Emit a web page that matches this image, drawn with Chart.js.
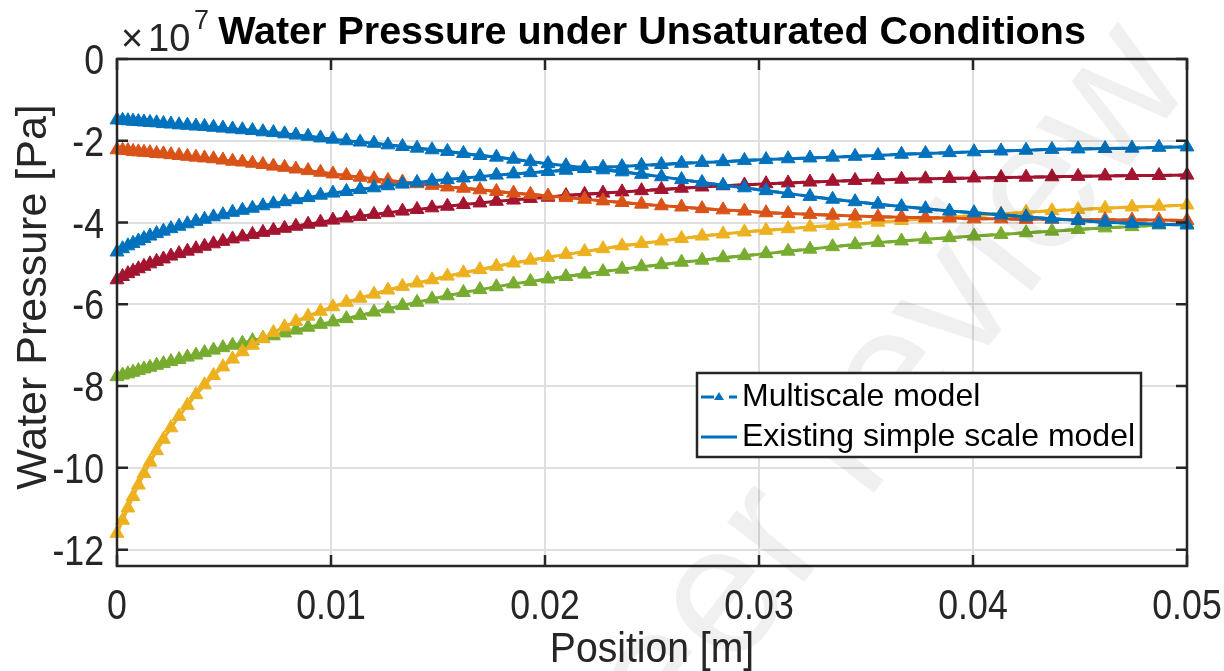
<!DOCTYPE html>
<html>
<head>
<meta charset="utf-8">
<title>Water Pressure under Unsaturated Conditions</title>
<script src="https://cdn.jsdelivr.net/npm/chart.js@4.4.0/dist/chart.umd.min.js"></script>
<style>
  html, body { margin: 0; padding: 0; background: #fff; }
  canvas { display: block; }
</style>
</head>
<body>
<canvas id="chart" width="1224" height="671"></canvas>
<script>
// Node positions along the sample [m] (the mesh is finer near x = 0)
const position = [
  0, 0.00026, 0.00051, 0.00075, 0.00100, 0.00126, 0.00154, 0.00185, 0.00217, 0.00252,
  0.00290, 0.00329, 0.00369, 0.00409, 0.00451, 0.00495, 0.00540, 0.00586, 0.00633, 0.00682,
  0.00731, 0.00783, 0.00836, 0.00893, 0.00951, 0.01009, 0.01072, 0.01136, 0.01201, 0.01266,
  0.01334, 0.01402, 0.01472, 0.01544, 0.01619, 0.01696, 0.01773, 0.01853, 0.01932, 0.02014,
  0.02098, 0.02185, 0.02271, 0.02360, 0.02451, 0.02544, 0.02638, 0.02734, 0.02832, 0.02932,
  0.03033, 0.03136, 0.03238, 0.03344, 0.03449, 0.03556, 0.03666, 0.03778, 0.03890, 0.04005,
  0.04131, 0.04248, 0.04369, 0.04491, 0.04617, 0.04743, 0.04869, 0.05
];

// Water pressure [x 10^7 Pa], one array per curve
const pressureBlueTop = [
  -1.49, -1.50, -1.51, -1.52, -1.53, -1.54, -1.55, -1.56, -1.58, -1.59,
  -1.61, -1.62, -1.64, -1.65, -1.67, -1.69, -1.71, -1.73, -1.75, -1.78,
  -1.80, -1.83, -1.86, -1.89, -1.93, -1.96, -2.00, -2.03, -2.06, -2.10,
  -2.14, -2.18, -2.22, -2.26, -2.31, -2.36, -2.40, -2.45, -2.51, -2.56,
  -2.61, -2.66, -2.71, -2.76, -2.82, -2.88, -2.95, -3.02, -3.09, -3.15,
  -3.22, -3.29, -3.36, -3.43, -3.49, -3.55, -3.61, -3.66, -3.72, -3.76,
  -3.81, -3.86, -3.91, -3.95, -3.99, -4.02, -4.04, -4.06
];
const pressureOrange = [
  -2.22, -2.23, -2.24, -2.26, -2.27, -2.28, -2.29, -2.31, -2.32, -2.34,
  -2.36, -2.38, -2.40, -2.42, -2.44, -2.47, -2.50, -2.52, -2.55, -2.58,
  -2.62, -2.65, -2.69, -2.73, -2.77, -2.81, -2.85, -2.89, -2.93, -2.97,
  -3.01, -3.05, -3.09, -3.13, -3.16, -3.20, -3.24, -3.28, -3.31, -3.35,
  -3.39, -3.43, -3.47, -3.51, -3.55, -3.59, -3.62, -3.66, -3.69, -3.72,
  -3.76, -3.78, -3.80, -3.82, -3.84, -3.86, -3.87, -3.88, -3.89, -3.91,
  -3.91, -3.92, -3.92, -3.93, -3.93, -3.94, -3.94, -3.95
];
const pressureBlueLow = [
  -4.72, -4.64, -4.57, -4.51, -4.45, -4.39, -4.33, -4.27, -4.21, -4.15,
  -4.09, -4.03, -3.97, -3.92, -3.86, -3.81, -3.75, -3.70, -3.65, -3.59,
  -3.54, -3.49, -3.44, -3.39, -3.33, -3.28, -3.24, -3.19, -3.15, -3.10,
  -3.06, -3.02, -2.98, -2.95, -2.91, -2.88, -2.84, -2.81, -2.78, -2.75,
  -2.72, -2.68, -2.65, -2.63, -2.60, -2.58, -2.55, -2.53, -2.51, -2.48,
  -2.46, -2.44, -2.42, -2.40, -2.38, -2.36, -2.33, -2.31, -2.29, -2.27,
  -2.25, -2.23, -2.21, -2.20, -2.19, -2.18, -2.16, -2.15
];
const pressureDarkRed = [
  -5.40, -5.32, -5.25, -5.19, -5.13, -5.07, -5.01, -4.95, -4.89, -4.82,
  -4.76, -4.70, -4.64, -4.58, -4.52, -4.46, -4.40, -4.35, -4.29, -4.24,
  -4.19, -4.14, -4.09, -4.04, -3.99, -3.94, -3.89, -3.85, -3.80, -3.76,
  -3.72, -3.68, -3.64, -3.60, -3.56, -3.52, -3.48, -3.45, -3.41, -3.38,
  -3.34, -3.31, -3.28, -3.25, -3.22, -3.19, -3.16, -3.13, -3.10, -3.08,
  -3.05, -3.03, -3.01, -2.99, -2.97, -2.96, -2.94, -2.93, -2.92, -2.91,
  -2.90, -2.89, -2.88, -2.87, -2.86, -2.85, -2.85, -2.84
];
const pressureGreen = [
  -7.77, -7.73, -7.70, -7.66, -7.62, -7.58, -7.54, -7.49, -7.45, -7.40,
  -7.35, -7.29, -7.24, -7.18, -7.12, -7.06, -7.00, -6.95, -6.89, -6.83,
  -6.77, -6.70, -6.63, -6.56, -6.49, -6.43, -6.35, -6.27, -6.19, -6.11,
  -6.03, -5.95, -5.87, -5.79, -5.71, -5.64, -5.57, -5.50, -5.44, -5.38,
  -5.32, -5.26, -5.20, -5.14, -5.08, -5.03, -4.97, -4.92, -4.86, -4.81,
  -4.76, -4.70, -4.65, -4.59, -4.54, -4.49, -4.45, -4.41, -4.37, -4.33,
  -4.29, -4.25, -4.21, -4.17, -4.13, -4.10, -4.06, -4.03
];
const pressureYellow = [
  -11.60, -11.28, -10.98, -10.70, -10.42, -10.14, -9.86, -9.58, -9.30, -9.02,
  -8.74, -8.47, -8.21, -7.97, -7.74, -7.53, -7.34, -7.16, -7.00, -6.84,
  -6.69, -6.55, -6.42, -6.29, -6.17, -6.06, -5.95, -5.85, -5.75, -5.65,
  -5.56, -5.48, -5.40, -5.31, -5.23, -5.15, -5.07, -4.99, -4.92, -4.85,
  -4.78, -4.71, -4.64, -4.57, -4.51, -4.45, -4.39, -4.33, -4.28, -4.23,
  -4.19, -4.15, -4.11, -4.07, -4.03, -3.99, -3.95, -3.91, -3.87, -3.83,
  -3.79, -3.75, -3.71, -3.68, -3.65, -3.62, -3.60, -3.57
];

const xTicks = [0, 0.01, 0.02, 0.03, 0.04, 0.05];
const xTickLabels = ['0', '0.01', '0.02', '0.03', '0.04', '0.05'];
const yTicks = [-12, -10, -8, -6, -4, -2, 0];
const yTickLabels = ['-12', '-10', '-8', '-6', '-4', '-2', '0'];
const legendLabels = ['Multiscale model', 'Existing simple scale model'];

const AXIS_COLOR = '#262626';
const FONT = '"Liberation Sans", Arial, Helvetica, sans-serif';

// first entry ends up on top (Chart.js draws dataset 0 last)
const curves = [
  { values: pressureBlueTop, color: '#0072BD' },
  { values: pressureBlueLow, color: '#0072BD' },
  { values: pressureOrange, color: '#D95319' },
  { values: pressureYellow, color: '#EDB120' },
  { values: pressureDarkRed, color: '#A2142F' },
  { values: pressureGreen, color: '#77AC30' }
];

const datasets = [];
curves.forEach(c => {
  const pts = position.map((x, j) => ({ x: x, y: c.values[j] }));
  datasets.push({
    label: legendLabels[0],
    data: pts,
    borderColor: c.color,
    backgroundColor: c.color,
    borderWidth: 3,
    borderDash: [10, 6],
    pointStyle: 'triangle',
    pointRadius: 8,
    pointBorderWidth: 1,
    pointBorderColor: c.color,
    pointBackgroundColor: c.color,
    clip: false
  });
  datasets.push({
    label: legendLabels[1],
    data: pts,
    borderColor: c.color,
    borderWidth: 3,
    pointRadius: 0,
    clip: false
  });
});

// text squeezed horizontally, like the narrow Helvetica of the original export
function narrowText(ctx, text, x, y, align, sx) {
  ctx.save();
  ctx.translate(x, y);
  ctx.scale(sx, 1);
  ctx.textAlign = align;
  ctx.fillText(text, 0, 0);
  ctx.restore();
}

// axes box with inward ticks, tick labels, titles and the legend (MATLAB look)
const decorations = {
  id: 'decorations',
  afterDatasetsDraw(chart) {
    const { ctx, chartArea: a, scales } = chart;
    ctx.save();
    ctx.strokeStyle = AXIS_COLOR;
    ctx.lineWidth = 2.5;
    ctx.strokeRect(a.left, a.top, a.right - a.left, a.bottom - a.top);
    ctx.beginPath();
    xTicks.forEach(v => {
      const px = scales.x.getPixelForValue(v);
      ctx.moveTo(px, a.bottom); ctx.lineTo(px, a.bottom - 11);
      ctx.moveTo(px, a.top); ctx.lineTo(px, a.top + 11);
    });
    yTicks.forEach(v => {
      const py = scales.y.getPixelForValue(v);
      ctx.moveTo(a.left, py); ctx.lineTo(a.left + 11, py);
      ctx.moveTo(a.right, py); ctx.lineTo(a.right - 11, py);
    });
    ctx.stroke();

    // tick labels
    ctx.fillStyle = AXIS_COLOR;
    ctx.font = '42px ' + FONT;
    ctx.textBaseline = 'alphabetic';
    xTicks.forEach((v, i) => {
      narrowText(ctx, xTickLabels[i], scales.x.getPixelForValue(v), a.bottom + 53, 'center', 0.85);
    });
    yTicks.forEach((v, i) => {
      narrowText(ctx, yTickLabels[i], a.left - 13, scales.y.getPixelForValue(v) + 15, 'right', 0.85);
    });
    ctx.restore();
  },
  afterDraw(chart) {
    const { ctx, chartArea: a } = chart;
    ctx.save();

    // faint review watermark
    ctx.save();
    ctx.translate(1195, 82);
    ctx.rotate(-52 * Math.PI / 180);
    ctx.fillStyle = 'rgba(0,0,0,0.06)';
    ctx.font = '185px ' + FONT;
    ctx.textAlign = 'right';
    ctx.textBaseline = 'alphabetic';
    ctx.fillText('for peer review', 0, 0);
    ctx.restore();

    // title
    ctx.fillStyle = '#000';
    ctx.font = 'bold 39.5px ' + FONT;
    ctx.textAlign = 'center';
    ctx.textBaseline = 'alphabetic';
    ctx.fillText('Water Pressure under Unsaturated Conditions', (a.left + a.right) / 2, 44);

    // exponent label
    ctx.fillStyle = AXIS_COLOR;
    ctx.textAlign = 'left';
    ctx.font = '38px ' + FONT;
    ctx.fillText('\u00d7', 121, 51);
    ctx.fillText('10', 148, 51);
    ctx.font = '27px ' + FONT;
    ctx.fillText('7', 194, 29);

    // axis titles
    ctx.font = '43px ' + FONT;
    narrowText(ctx, 'Position [m]', (a.left + a.right) / 2, 662, 'center', 0.91);
    ctx.save();
    ctx.translate(46, 297);
    ctx.rotate(-Math.PI / 2);
    ctx.textAlign = 'center';
    ctx.fillText('Water Pressure [Pa]', 0, 0);
    ctx.restore();

    // legend
    const bx = 697, by = 373, bw = 444, bh = 84;
    ctx.fillStyle = '#fff';
    ctx.fillRect(bx, by, bw, bh);
    ctx.strokeStyle = AXIS_COLOR;
    ctx.lineWidth = 2.5;
    ctx.strokeRect(bx, by, bw, bh);
    const blue = curves[0].color;
    const row1 = 397, row2 = 437;
    ctx.strokeStyle = blue;
    ctx.lineWidth = 3;
    ctx.beginPath();
    ctx.moveTo(701, row1); ctx.lineTo(714, row1);
    ctx.moveTo(729, row1); ctx.lineTo(737, row1);
    ctx.moveTo(701, row2); ctx.lineTo(737, row2);
    ctx.stroke();
    ctx.fillStyle = blue;
    ctx.beginPath();
    ctx.moveTo(719, row1 - 5);
    ctx.lineTo(724, row1 + 3);
    ctx.lineTo(714, row1 + 3);
    ctx.closePath();
    ctx.fill();
    ctx.fillStyle = '#000';
    ctx.font = '32px ' + FONT;
    ctx.textAlign = 'left';
    ctx.textBaseline = 'middle';
    ctx.fillText(legendLabels[0], 742, row1);
    ctx.fillText(legendLabels[1], 742, row2);

    ctx.restore();
  }
};

new Chart(document.getElementById('chart'), {
  type: 'line',
  data: { datasets: datasets },
  options: {
    responsive: false,
    devicePixelRatio: 1,
    animation: false,
    events: [],
    layout: { padding: { top: 59, right: 37, left: 0, bottom: 0 } },
    plugins: { legend: { display: false }, title: { display: false }, tooltip: { enabled: false } },
    scales: {
      x: {
        type: 'linear',
        min: 0,
        max: 0.05,
        afterBuildTicks: s => { s.ticks = xTicks.map(v => ({ value: v })); },
        afterFit: s => { s.height = 105; s.paddingLeft = 0; s.paddingRight = 0; },
        ticks: { display: false },
        grid: { color: '#dfdfdf', lineWidth: 2, drawTicks: false },
        border: { display: false }
      },
      y: {
        type: 'linear',
        min: -12.4,
        max: 0,
        afterBuildTicks: s => { s.ticks = yTicks.map(v => ({ value: v })); },
        afterFit: s => { s.width = 117; s.paddingTop = 0; s.paddingBottom = 0; },
        ticks: { display: false },
        grid: { color: '#dfdfdf', lineWidth: 2, drawTicks: false },
        border: { display: false }
      }
    }
  },
  plugins: [decorations]
});
</script>
</body>
</html>
